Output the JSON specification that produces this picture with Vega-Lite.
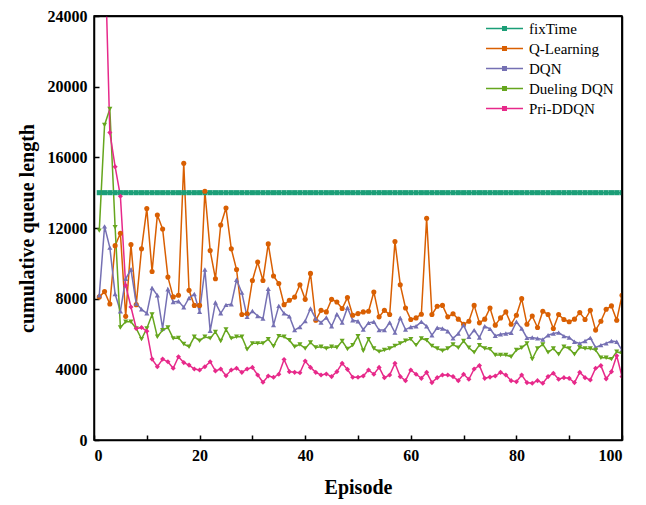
{
 "$schema": "https://vega.github.io/schema/vega-lite/v6.json",
 "width": 528, "height": 424,
 "autosize": {"type": "none"},
 "padding": {"left": 94, "top": 16, "right": 24, "bottom": 65},
 "background": "white",
 "view": {"stroke": "black", "strokeWidth": 1.5},
 "config": {
  "view": {"stroke": "black", "strokeWidth": 1.5},
  "font": "Liberation Serif",
  "axis": {"domainColor": "black", "domainWidth": 1.5, "tickColor": "black", "tickWidth": 1.5,
   "labelFont": "Liberation Serif", "labelFontSize": 16, "labelFontWeight": "bold", "labelColor": "black",
   "titleFont": "Liberation Serif", "titleFontSize": 20, "titleFontWeight": "bold", "titleColor": "black"},
  "legend": {"orient": "none", "legendX": 403, "legendY": 5,
   "labelFont": "Liberation Serif", "labelFontSize": 15, "labelColor": "black", "labelOffset": 17, "rowPadding": 4}
 },
 "datasets": {
  "frame": [{"side": "top"}, {"side": "right"}]
 },
 "data": {"values": [
  {"e":1,"fixTime":14000,"Q-Learning":8100,"DQN":8190,"Dueling DQN":11850,"Pri-DDQN":30000},
  {"e":2,"fixTime":14000,"Q-Learning":8400,"DQN":12090,"Dueling DQN":17830,"Pri-DDQN":28500},
  {"e":3,"fixTime":14000,"Q-Learning":7700,"DQN":10890,"Dueling DQN":18735,"Pri-DDQN":17400},
  {"e":4,"fixTime":14000,"Q-Learning":11000,"DQN":8260,"Dueling DQN":12040,"Pri-DDQN":15470},
  {"e":5,"fixTime":14000,"Q-Learning":11700,"DQN":7290,"Dueling DQN":6370,"Pri-DDQN":13800},
  {"e":6,"fixTime":14000,"Q-Learning":7000,"DQN":9130,"Dueling DQN":6690,"Pri-DDQN":8750},
  {"e":7,"fixTime":14000,"Q-Learning":11060,"DQN":9650,"Dueling DQN":6690,"Pri-DDQN":7530},
  {"e":8,"fixTime":14000,"Q-Learning":7660,"DQN":7720,"Dueling DQN":6310,"Pri-DDQN":6310},
  {"e":9,"fixTime":14000,"Q-Learning":10820,"DQN":7400,"Dueling DQN":5710,"Pri-DDQN":6370},
  {"e":10,"fixTime":14000,"Q-Learning":13100,"DQN":7170,"Dueling DQN":6310,"Pri-DDQN":6160},
  {"e":11,"fixTime":14000,"Q-Learning":9540,"DQN":8600,"Dueling DQN":7100,"Pri-DDQN":4580},
  {"e":12,"fixTime":14000,"Q-Learning":12730,"DQN":8190,"Dueling DQN":5840,"Pri-DDQN":4150},
  {"e":13,"fixTime":14000,"Q-Learning":11940,"DQN":6310,"Dueling DQN":6220,"Pri-DDQN":4580},
  {"e":14,"fixTime":14000,"Q-Learning":9220,"DQN":8530,"Dueling DQN":6370,"Pri-DDQN":4430},
  {"e":15,"fixTime":14000,"Q-Learning":8100,"DQN":7810,"Dueling DQN":5750,"Pri-DDQN":4060},
  {"e":16,"fixTime":14000,"Q-Learning":8190,"DQN":7850,"Dueling DQN":5780,"Pri-DDQN":4710},
  {"e":17,"fixTime":14000,"Q-Learning":15660,"DQN":7510,"Dueling DQN":5430,"Pri-DDQN":4380},
  {"e":18,"fixTime":14000,"Q-Learning":8470,"DQN":8040,"Dueling DQN":5280,"Pri-DDQN":4240},
  {"e":19,"fixTime":14000,"Q-Learning":7620,"DQN":8260,"Dueling DQN":5840,"Pri-DDQN":4020},
  {"e":20,"fixTime":14000,"Q-Learning":7620,"DQN":7250,"Dueling DQN":5620,"Pri-DDQN":3960},
  {"e":21,"fixTime":14000,"Q-Learning":14080,"DQN":9650,"Dueling DQN":5840,"Pri-DDQN":4150},
  {"e":22,"fixTime":14000,"Q-Learning":10720,"DQN":6180,"Dueling DQN":5750,"Pri-DDQN":4430},
  {"e":23,"fixTime":14000,"Q-Learning":9130,"DQN":7780,"Dueling DQN":6120,"Pri-DDQN":3910},
  {"e":24,"fixTime":14000,"Q-Learning":12170,"DQN":7170,"Dueling DQN":5600,"Pri-DDQN":4020},
  {"e":25,"fixTime":14000,"Q-Learning":13130,"DQN":7650,"Dueling DQN":6260,"Pri-DDQN":3640},
  {"e":26,"fixTime":14000,"Q-Learning":10820,"DQN":7680,"Dueling DQN":5750,"Pri-DDQN":3960},
  {"e":27,"fixTime":14000,"Q-Learning":9650,"DQN":9070,"Dueling DQN":5840,"Pri-DDQN":4060},
  {"e":28,"fixTime":14000,"Q-Learning":7100,"DQN":8340,"Dueling DQN":5840,"Pri-DDQN":3830},
  {"e":29,"fixTime":14000,"Q-Learning":7150,"DQN":6970,"Dueling DQN":5130,"Pri-DDQN":4020},
  {"e":30,"fixTime":14000,"Q-Learning":9030,"DQN":7300,"Dueling DQN":5470,"Pri-DDQN":4110},
  {"e":31,"fixTime":14000,"Q-Learning":10070,"DQN":7020,"Dueling DQN":5470,"Pri-DDQN":3680},
  {"e":32,"fixTime":14000,"Q-Learning":9030,"DQN":6870,"Dueling DQN":5470,"Pri-DDQN":3270},
  {"e":33,"fixTime":14000,"Q-Learning":11100,"DQN":8560,"Dueling DQN":5710,"Pri-DDQN":3620},
  {"e":34,"fixTime":14000,"Q-Learning":9280,"DQN":6500,"Dueling DQN":5310,"Pri-DDQN":3550},
  {"e":35,"fixTime":14000,"Q-Learning":8860,"DQN":7590,"Dueling DQN":5880,"Pri-DDQN":3720},
  {"e":36,"fixTime":14000,"Q-Learning":7660,"DQN":7170,"Dueling DQN":5840,"Pri-DDQN":4560},
  {"e":37,"fixTime":14000,"Q-Learning":7910,"DQN":7000,"Dueling DQN":5650,"Pri-DDQN":3870},
  {"e":38,"fixTime":14000,"Q-Learning":8090,"DQN":6220,"Dueling DQN":5280,"Pri-DDQN":3830},
  {"e":39,"fixTime":14000,"Q-Learning":8790,"DQN":6400,"Dueling DQN":5410,"Pri-DDQN":3810},
  {"e":40,"fixTime":14000,"Q-Learning":7960,"DQN":6740,"Dueling DQN":5180,"Pri-DDQN":4470},
  {"e":41,"fixTime":14000,"Q-Learning":9430,"DQN":7440,"Dueling DQN":5520,"Pri-DDQN":4110},
  {"e":42,"fixTime":14000,"Q-Learning":6780,"DQN":6870,"Dueling DQN":5240,"Pri-DDQN":3830},
  {"e":43,"fixTime":14000,"Q-Learning":7340,"DQN":6650,"Dueling DQN":5280,"Pri-DDQN":3680},
  {"e":44,"fixTime":14000,"Q-Learning":7250,"DQN":6930,"Dueling DQN":5180,"Pri-DDQN":3740},
  {"e":45,"fixTime":14000,"Q-Learning":7960,"DQN":6440,"Dueling DQN":5280,"Pri-DDQN":3590},
  {"e":46,"fixTime":14000,"Q-Learning":7810,"DQN":7120,"Dueling DQN":5240,"Pri-DDQN":3870},
  {"e":47,"fixTime":14000,"Q-Learning":7440,"DQN":6650,"Dueling DQN":5600,"Pri-DDQN":4340},
  {"e":48,"fixTime":14000,"Q-Learning":8060,"DQN":7490,"Dueling DQN":5150,"Pri-DDQN":4000},
  {"e":49,"fixTime":14000,"Q-Learning":7060,"DQN":6780,"Dueling DQN":5370,"Pri-DDQN":3550},
  {"e":50,"fixTime":14000,"Q-Learning":7155,"DQN":6720,"Dueling DQN":5870,"Pri-DDQN":3550},
  {"e":51,"fixTime":14000,"Q-Learning":7250,"DQN":6250,"Dueling DQN":5050,"Pri-DDQN":3620},
  {"e":52,"fixTime":14000,"Q-Learning":7290,"DQN":6630,"Dueling DQN":5710,"Pri-DDQN":3960},
  {"e":53,"fixTime":14000,"Q-Learning":8380,"DQN":6690,"Dueling DQN":5180,"Pri-DDQN":3720},
  {"e":54,"fixTime":14000,"Q-Learning":6970,"DQN":6220,"Dueling DQN":5000,"Pri-DDQN":4110},
  {"e":55,"fixTime":14000,"Q-Learning":7340,"DQN":6220,"Dueling DQN":5090,"Pri-DDQN":3530},
  {"e":56,"fixTime":14000,"Q-Learning":7100,"DQN":6650,"Dueling DQN":5180,"Pri-DDQN":3680},
  {"e":57,"fixTime":14000,"Q-Learning":11230,"DQN":6080,"Dueling DQN":5330,"Pri-DDQN":4340},
  {"e":58,"fixTime":14000,"Q-Learning":8790,"DQN":6910,"Dueling DQN":5470,"Pri-DDQN":3590},
  {"e":59,"fixTime":14000,"Q-Learning":7470,"DQN":6250,"Dueling DQN":5620,"Pri-DDQN":3360},
  {"e":60,"fixTime":14000,"Q-Learning":6820,"DQN":6400,"Dueling DQN":5710,"Pri-DDQN":3960},
  {"e":61,"fixTime":14000,"Q-Learning":6910,"DQN":6440,"Dueling DQN":5370,"Pri-DDQN":3720},
  {"e":62,"fixTime":14000,"Q-Learning":7120,"DQN":6690,"Dueling DQN":5750,"Pri-DDQN":3490},
  {"e":63,"fixTime":14000,"Q-Learning":12545,"DQN":6440,"Dueling DQN":5650,"Pri-DDQN":3830},
  {"e":64,"fixTime":14000,"Q-Learning":7100,"DQN":5930,"Dueling DQN":5330,"Pri-DDQN":3250},
  {"e":65,"fixTime":14000,"Q-Learning":7570,"DQN":6350,"Dueling DQN":5180,"Pri-DDQN":3530},
  {"e":66,"fixTime":14000,"Q-Learning":7620,"DQN":6310,"Dueling DQN":5050,"Pri-DDQN":3680},
  {"e":67,"fixTime":14000,"Q-Learning":6970,"DQN":6160,"Dueling DQN":5180,"Pri-DDQN":3680},
  {"e":68,"fixTime":14000,"Q-Learning":7150,"DQN":5750,"Dueling DQN":5410,"Pri-DDQN":3590},
  {"e":69,"fixTime":14000,"Q-Learning":6840,"DQN":6030,"Dueling DQN":5220,"Pri-DDQN":3360},
  {"e":70,"fixTime":14000,"Q-Learning":6550,"DQN":6500,"Dueling DQN":5600,"Pri-DDQN":3720},
  {"e":71,"fixTime":14000,"Q-Learning":6720,"DQN":5840,"Dueling DQN":5220,"Pri-DDQN":3440},
  {"e":72,"fixTime":14000,"Q-Learning":7620,"DQN":6220,"Dueling DQN":4960,"Pri-DDQN":4020},
  {"e":73,"fixTime":14000,"Q-Learning":6630,"DQN":5800,"Dueling DQN":5370,"Pri-DDQN":4210},
  {"e":74,"fixTime":14000,"Q-Learning":6840,"DQN":6440,"Dueling DQN":5180,"Pri-DDQN":3490},
  {"e":75,"fixTime":14000,"Q-Learning":7470,"DQN":6290,"Dueling DQN":5145,"Pri-DDQN":3560},
  {"e":76,"fixTime":14000,"Q-Learning":6500,"DQN":5900,"Dueling DQN":4810,"Pri-DDQN":3620},
  {"e":77,"fixTime":14000,"Q-Learning":6910,"DQN":5990,"Dueling DQN":4810,"Pri-DDQN":3830},
  {"e":78,"fixTime":14000,"Q-Learning":7250,"DQN":6030,"Dueling DQN":4810,"Pri-DDQN":3680},
  {"e":79,"fixTime":14000,"Q-Learning":6550,"DQN":6070,"Dueling DQN":4710,"Pri-DDQN":3360},
  {"e":80,"fixTime":14000,"Q-Learning":7060,"DQN":6690,"Dueling DQN":5090,"Pri-DDQN":3300},
  {"e":81,"fixTime":14000,"Q-Learning":8000,"DQN":6310,"Dueling DQN":5220,"Pri-DDQN":3680},
  {"e":82,"fixTime":14000,"Q-Learning":6550,"DQN":5780,"Dueling DQN":5470,"Pri-DDQN":3250},
  {"e":83,"fixTime":14000,"Q-Learning":7020,"DQN":5800,"Dueling DQN":4580,"Pri-DDQN":3210},
  {"e":84,"fixTime":14000,"Q-Learning":6370,"DQN":5750,"Dueling DQN":5180,"Pri-DDQN":3360},
  {"e":85,"fixTime":14000,"Q-Learning":7290,"DQN":5690,"Dueling DQN":5410,"Pri-DDQN":3210},
  {"e":86,"fixTime":14000,"Q-Learning":7100,"DQN":5930,"Dueling DQN":4960,"Pri-DDQN":3590},
  {"e":87,"fixTime":14000,"Q-Learning":6310,"DQN":6030,"Dueling DQN":5180,"Pri-DDQN":3780},
  {"e":88,"fixTime":14000,"Q-Learning":7100,"DQN":6080,"Dueling DQN":4850,"Pri-DDQN":3440},
  {"e":89,"fixTime":14000,"Q-Learning":6820,"DQN":5880,"Dueling DQN":5280,"Pri-DDQN":3530},
  {"e":90,"fixTime":14000,"Q-Learning":6690,"DQN":5800,"Dueling DQN":5180,"Pri-DDQN":3490},
  {"e":91,"fixTime":14000,"Q-Learning":6840,"DQN":5560,"Dueling DQN":4850,"Pri-DDQN":3250},
  {"e":92,"fixTime":14000,"Q-Learning":7210,"DQN":5470,"Dueling DQN":5240,"Pri-DDQN":3830},
  {"e":93,"fixTime":14000,"Q-Learning":6820,"DQN":5600,"Dueling DQN":5180,"Pri-DDQN":3530},
  {"e":94,"fixTime":14000,"Q-Learning":7340,"DQN":5780,"Dueling DQN":5180,"Pri-DDQN":3400},
  {"e":95,"fixTime":14000,"Q-Learning":6220,"DQN":5240,"Dueling DQN":5090,"Pri-DDQN":4060},
  {"e":96,"fixTime":14000,"Q-Learning":6720,"DQN":5370,"Dueling DQN":4660,"Pri-DDQN":4210},
  {"e":97,"fixTime":14000,"Q-Learning":7400,"DQN":5470,"Dueling DQN":4660,"Pri-DDQN":3460},
  {"e":98,"fixTime":14000,"Q-Learning":7590,"DQN":5600,"Dueling DQN":4580,"Pri-DDQN":3870},
  {"e":99,"fixTime":14000,"Q-Learning":6780,"DQN":5560,"Dueling DQN":5000,"Pri-DDQN":4770},
  {"e":100,"fixTime":14000,"Q-Learning":8190,"DQN":5090,"Dueling DQN":4900,"Pri-DDQN":3590}
 ]},
 "layer": [
  {"transform": [{"fold": ["fixTime", "Q-Learning", "DQN", "Dueling DQN", "Pri-DDQN"], "as": ["series", "value"]}],
   "encoding": {
    "x": {"field": "e", "type": "quantitative", "scale": {"domain": [0, 100], "nice": false},
     "axis": {"title": "Episode", "values": [0,10,20,30,40,50,60,70,80,90,100],
      "labelExpr": "datum.value % 20 == 0 ? datum.label : ''",
      "tickSize": -5, "labelPadding": 12, "titlePadding": 14,
      "grid": true, "gridWidth": 1.5,
      "gridColor": {"condition": {"test": "datum.value == 100", "value": "black"}, "value": "transparent"}}},
    "y": {"field": "value", "type": "quantitative", "scale": {"domain": [0, 24000], "nice": false},
     "axis": {"title": "cumulative queue length", "format": "d",
      "values": [0,2000,4000,6000,8000,10000,12000,14000,16000,18000,20000,22000,24000],
      "labelExpr": "datum.value % 4000 == 0 ? datum.label : ''",
      "tickSize": -5, "labelPadding": 12, "titlePadding": 10,
      "grid": true, "gridWidth": 1.5,
      "gridColor": {"condition": {"test": "datum.value == 24000", "value": "black"}, "value": "transparent"}}},
    "color": {"field": "series", "type": "nominal",
     "scale": {"domain": ["fixTime", "Q-Learning", "DQN", "Dueling DQN", "Pri-DDQN"],
      "range": ["#1b9e77", "#d95f02", "#7570b3", "#66a61e", "#e7298a"]},
     "legend": {"title": null,
      "symbolType": "M-3.7,0 L3.7,0 M-0.35,-0.35 L0.35,-0.35 L0.35,0.35 L-0.35,0.35 Z",
      "symbolSize": 100, "symbolStrokeWidth": 1.5, "symbolOpacity": 1,
      "encode": {"symbols": {"update": {
        "fill": {"scale": "color", "field": "value"},
        "stroke": {"scale": "color", "field": "value"}}}}}}
   },
   "layer": [
    {"mark": {"type": "line", "strokeWidth": 1.5, "clip": true}},
    {"transform": [{"filter": "datum.series == 'fixTime'"}],
     "mark": {"type": "point", "shape": "square", "filled": true, "size": 26, "opacity": 1, "clip": true}},
    {"transform": [{"filter": "datum.series == 'Q-Learning'"}],
     "mark": {"type": "point", "shape": "circle", "filled": true, "size": 26, "opacity": 1, "clip": true}},
    {"transform": [{"filter": "datum.series == 'DQN'"}],
     "mark": {"type": "point", "shape": "triangle-up", "filled": true, "size": 26, "opacity": 1, "clip": true}},
    {"transform": [{"filter": "datum.series == 'Dueling DQN'"}],
     "mark": {"type": "point", "shape": "triangle-down", "filled": true, "size": 26, "opacity": 1, "clip": true}},
    {"transform": [{"filter": "datum.series == 'Pri-DDQN'"}],
     "mark": {"type": "point", "shape": "diamond", "filled": true, "size": 26, "opacity": 1, "clip": true}}
   ]},
  {"data": {"name": "frame"},
   "transform": [{"filter": "datum.side == 'top'"}],
   "mark": {"type": "rule", "color": "black", "strokeWidth": 1.5},
   "encoding": {
    "x": {"datum": 0, "type": "quantitative"},
    "x2": {"datum": 100},
    "y": {"datum": 24000, "type": "quantitative"}}},
  {"data": {"name": "frame"},
   "transform": [{"filter": "datum.side == 'right'"}],
   "mark": {"type": "rule", "color": "black", "strokeWidth": 1.5},
   "encoding": {
    "x": {"datum": 100, "type": "quantitative"},
    "y": {"datum": 0, "type": "quantitative"},
    "y2": {"datum": 24000}}}
 ]
}
